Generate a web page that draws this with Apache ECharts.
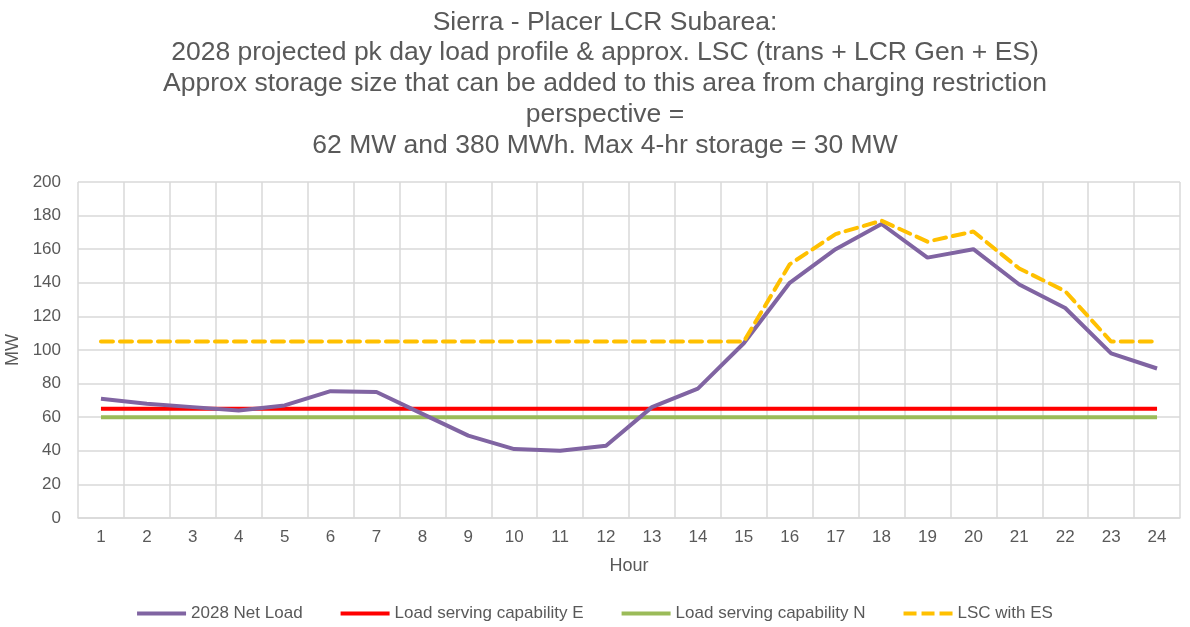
<!DOCTYPE html>
<html><head><meta charset="utf-8">
<script src="https://cdn.jsdelivr.net/npm/echarts@6/dist/echarts.min.js"></script>
<style>html,body{margin:0;padding:0;background:#fff}#c{width:1190px;height:627px}</style>
</head><body><div id="c"></div>
<script>
const hours = ['1','2','3','4','5','6','7','8','9','10','11','12','13','14','15','16','17','18','19','20','21','22','23','24'];
const netLoad = [71,68,66,64,67,75.5,75,62,49,41,40,43,66,77,104,140,160,175,155,160,139,125,98,89];
const lscE = [65,65,65,65,65,65,65,65,65,65,65,65,65,65,65,65,65,65,65,65,65,65,65,65];
const lscN = [60,60,60,60,60,60,60,60,60,60,60,60,60,60,60,60,60,60,60,60,60,60,60,60];
const lscES = [105,105,105,105,105,105,105,105,105,105,105,105,105,105,105,151,169,177,164.5,170.5,148.5,135,105,105];
const yTicks = [0,20,40,60,80,100,120,140,160,180,200];
const titleText = 'Sierra - Placer LCR Subarea:\n2028 projected pk day load profile & approx. LSC (trans + LCR Gen + ES)\nApprox storage size that can be added to this area from charging restriction\nperspective =\n62 MW and 380 MWh. Max 4-hr storage = 30 MW';

const font = 'Liberation Sans, Arial, sans-serif';
const chart = echarts.init(document.getElementById('c'), null, {renderer:'canvas'});
chart.setOption({
  animation:false,
  textStyle:{fontFamily:font},
  title:{text:titleText,left:600,top:2,textAlign:'center',
    textStyle:{fontFamily:font,fontSize:26.5,fontWeight:'normal',color:'#595959',lineHeight:30.75}},
  grid:{left:78,right:10,top:182,bottom:109,containLabel:false,outerBoundsMode:'none'},
  legend:{bottom:0,left:'center',itemWidth:49,itemHeight:4,itemGap:38,
    icon:'rect',textStyle:{fontSize:17,color:'#595959',fontFamily:font},
    data:[{name:'2028 Net Load'},{name:'Load serving capability E'},{name:'Load serving capability N'},
      {name:'LSC with ES',icon:'path://M0,0 H13 V4 H0 Z M18,0 H31 V4 H18 Z M36,0 H49 V4 H36 Z'}]},
  xAxis:{type:'category',data:hours,boundaryGap:true,name:'Hour',nameLocation:'middle',nameGap:39,
    nameTextStyle:{fontSize:18,color:'#595959'},
    axisLine:{lineStyle:{color:'#d9d9d9',width:1.5}},axisTick:{show:false},
    axisLabel:{fontSize:17,color:'#595959',margin:11},
    splitLine:{show:true,interval:0,lineStyle:{color:'#d9d9d9',width:1.5}}},
  yAxis:{type:'value',min:0,max:200,interval:20,name:'MW',nameLocation:'middle',nameGap:45,
    nameTextStyle:{fontSize:18,color:'#595959'},
    axisLine:{show:false},axisTick:{show:false},
    axisLabel:{fontSize:17,color:'#595959',margin:17},
    splitLine:{lineStyle:{color:'#d9d9d9',width:1.5}}},
  series:[
    {name:'2028 Net Load',type:'line',data:netLoad,symbol:'none',lineStyle:{color:'#8064a2',width:4},itemStyle:{color:'#8064a2'},z:5},
    {name:'Load serving capability E',type:'line',data:lscE,symbol:'none',lineStyle:{color:'#ff0000',width:4},itemStyle:{color:'#ff0000'},z:4},
    {name:'Load serving capability N',type:'line',data:lscN,symbol:'none',lineStyle:{color:'#9bbb59',width:4},itemStyle:{color:'#9bbb59'},z:3},
    {name:'LSC with ES',type:'line',data:lscES,symbol:'none',lineStyle:{color:'#ffc000',width:4,type:[12,7],cap:'round'},itemStyle:{color:'#ffc000'},z:6}
  ]
});
</script></body></html>
